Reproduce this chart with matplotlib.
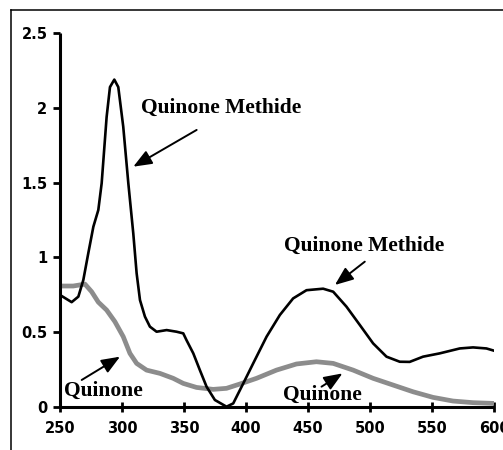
import matplotlib
matplotlib.use("Agg")
import matplotlib.pyplot as plt
from matplotlib.lines import Line2D

# Quinone Methide (black)
qm_x = [250, 259.4, 264.8, 268.8, 272.8, 276.9, 280.9, 283.6, 287.6, 290.3, 293.8, 297.0,
        301.0, 305.1, 309.1, 311.8, 314.5, 318.5, 322.5, 327.9, 336, 344, 349.4, 352,
        357.5, 362.8, 368.2, 374.9, 384.3, 389.7, 397.8, 405.8, 416.6, 427.3, 438, 448.8,
        462.2, 470.3, 481, 491.8, 502.5, 513.3, 524, 532, 542.8, 556.2, 572.4, 583.1, 593.9, 600]
qm_y = [0.748, 0.70, 0.737, 0.848, 1.027, 1.205, 1.317, 1.496, 1.94, 2.14, 2.19, 2.14,
        1.875, 1.496, 1.16, 0.893, 0.714, 0.603, 0.536, 0.502, 0.513, 0.502, 0.491, 0.446,
        0.357, 0.245, 0.134, 0.045, 0.0, 0.022, 0.156, 0.29, 0.469, 0.614, 0.725, 0.78,
        0.79, 0.77, 0.67, 0.547, 0.424, 0.335, 0.301, 0.30, 0.335, 0.357, 0.39, 0.397, 0.39, 0.375]

# Quinone (gray)
q_x = [250, 260.7, 270.1, 275.5, 280.9, 287.6, 294.3, 301, 306.4, 311.8, 319.8, 330.6,
       341.3, 349.4, 360.1, 373.5, 384.3, 395.1, 408.5, 424.6, 440.7, 456.8, 470.3, 486.4,
       502.5, 518.6, 534.7, 550.8, 566.9, 583.1, 600]
q_y = [0.808, 0.808, 0.821, 0.77, 0.70, 0.647, 0.569, 0.469, 0.357, 0.29, 0.245, 0.223,
       0.19, 0.156, 0.129, 0.116, 0.123, 0.152, 0.19, 0.245, 0.286, 0.301, 0.29, 0.245,
       0.19, 0.145, 0.10, 0.0625, 0.038, 0.027, 0.022]

x_ticks = [250, 300, 350, 400, 450, 500, 550, 600]
y_ticks = [0, 0.5, 1, 1.5, 2, 2.5]
y_tick_labels = ["0", "0.5", "1", "1.5", "2", "2.5"]

labels = ["Quinone Methide", "Quinone Methide", "Quinone", "Quinone"]
label_pos = [(315, 2.0), (430.8, 1.076), (253.2, 0.107), (430, 0.078)]
arrow_from = [(360.2, 1.853), (495.8, 0.971), (267.5, 0.179), (460.9, 0.134)]
arrow_to = [(309.1, 1.607), (471.7, 0.815), (298.4, 0.335), (477.8, 0.223)]

fig = plt.figure(figsize=(5.03, 4.5), dpi=100)
fig.patch.set_facecolor("white")
ax = fig.add_axes([60 / 503, 43.3 / 450, 434 / 503, 373.4 / 450])

ax.plot(q_x, q_y, color="#8c8c8c", lw=3.4, solid_capstyle="round",
        solid_joinstyle="round", zorder=2)
ax.plot(qm_x, qm_y, color="black", lw=1.9, solid_joinstyle="round", zorder=3)

ax.set_xlim(250, 600)
ax.set_ylim(0, 2.5)
ax.set_xticks(x_ticks)
ax.set_xticklabels([str(t) for t in x_ticks])
ax.set_yticks(y_ticks)
ax.set_yticklabels(y_tick_labels)

for s in ["top", "right"]:
    ax.spines[s].set_visible(False)
for s in ["left", "bottom"]:
    ax.spines[s].set_linewidth(2.2)
    ax.spines[s].set_capstyle("butt")

ax.tick_params(axis="x", direction="inout", length=7, width=2, pad=7)
ax.tick_params(axis="y", direction="out", length=5, width=2, pad=4)
for lab in ax.get_xticklabels() + ax.get_yticklabels():
    lab.set_fontfamily("DejaVu Sans")
    lab.set_fontweight("bold")
    lab.set_fontsize(10.5)
for lab in ax.get_xticklabels():
    lab.set_clip_on(False)

for text, (tx, ty), (fx, fy), (ex, ey) in zip(labels, label_pos, arrow_from, arrow_to):
    ax.text(tx, ty, text, ha="left", va="center", fontsize=15.5,
            fontfamily="Liberation Serif", fontweight="bold", zorder=5)
    ax.annotate("", xy=(ex, ey), xytext=(fx, fy),
                arrowprops=dict(arrowstyle="-|>,head_length=0.7,head_width=0.28",
                                color="black", lw=1.4,
                                mutation_scale=16, shrinkA=0, shrinkB=0),
                zorder=5)

# outer frame (cropped at right and bottom)
fx0 = 10.5 / 503
fy0 = 1 - 9.5 / 450
fig.add_artist(Line2D([fx0, fx0], [-0.1, fy0], transform=fig.transFigure,
                      color="black", lw=1.1))
fig.add_artist(Line2D([fx0, 1.1], [fy0, fy0], transform=fig.transFigure,
                      color="black", lw=1.1))

fig.savefig("out.png", dpi=100)
